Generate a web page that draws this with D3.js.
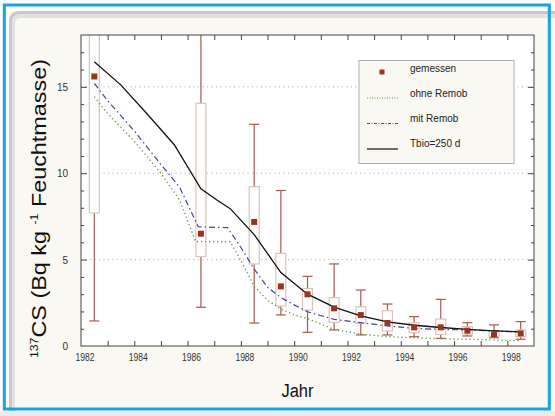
<!DOCTYPE html>
<html><head><meta charset="utf-8">
<script src="https://cdn.jsdelivr.net/npm/d3@7"></script>
<style>body{margin:0;background:#fff}svg{display:block;font-family:"Liberation Sans",Arial,sans-serif}</style>
</head><body><svg id="c" width="555" height="416"></svg>
<script>
// ---- data ----
const measYears = [1982.5,1986.5,1988.5,1989.5,1990.5,1991.5,1992.5,1993.5,1994.5,1995.5,1996.5,1997.5,1998.5];
const measMean  = [15.6,6.5,7.18,3.45,2.99,2.18,1.79,1.33,1.08,1.08,0.89,0.67,0.73];
const boxHigh   = [19.5,14.05,9.22,5.36,3.33,2.8,2.27,2.04,1.35,1.56,1.12,0.89,0.93];
const boxLow    = [7.7,5.17,4.75,2.31,2.08,1.37,1.31,0.87,0.77,0.67,0.69,0.54,0.54];
const whiskHigh = [20,20,12.83,9.0,4.03,4.75,3.24,2.43,1.7,2.7,1.35,1.22,1.41];
const whiskLow  = [1.45,2.24,1.33,1.8,0.79,0.93,0.64,0.64,0.54,0.44,0.58,0.48,0.39];

const ohneYears = [1982.5,1983,1984,1985,1985.7,1986.3,1987.6,1988,1988.5,1989,1989.5,1990,1990.5,1991.5,1992.5,1993.5,1994.5,1995.5,1996.5,1997.5,1998.5];
const ohneVals  = [14.43,13.45,11.85,10.0,8.45,6.05,6.03,4.95,3.45,2.65,2.15,1.8,1.58,0.96,0.69,0.54,0.48,0.42,0.39,0.35,0.3];
const mitYears  = [1982.5,1983,1984,1985,1985.7,1986.4,1987.5,1988,1988.5,1989,1989.5,1990,1990.5,1991.5,1992.5,1993.5,1994.5,1995.5,1996.5,1997.5,1998.5];
const mitVals   = [15.2,14.2,12.45,10.5,9.2,6.9,6.85,5.7,4.45,3.4,2.8,2.38,1.98,1.54,1.35,1.16,1.02,0.96,0.93,0.87,0.81];
const tbioYears = [1982.5,1983.5,1984.5,1985.5,1986.5,1987.1,1987.6,1988.5,1989.5,1990.5,1991.5,1992.5,1993.5,1994.5,1995.5,1996.5,1997.5,1998.5];
const tbioVals  = [16.45,15.1,13.4,11.65,9.1,8.45,7.95,6.45,4.25,3.0,2.25,1.75,1.4,1.2,1.07,0.96,0.88,0.82];

const xTickYears = [1982,1984,1986,1988,1990,1992,1994,1996,1998];
const yTickVals = [0,5,10,15];
const gridVals = [5,10,15];
const legendLabels = ["gemessen","ohne Remob","mit Remob","Tbio=250 d"];

// ---- layout ----
const svg = d3.select("#c");
const L=81,R=534,T=35,B=346;
const x = d3.scaleLinear().domain([1982,1999]).range([L,R]);
const y = d3.scaleLinear().domain([0,18]).range([B,T]);

// frame / panel
svg.append("rect").attr("x",0).attr("y",0).attr("width",555).attr("height",416).attr("fill","#fff");
svg.append("rect").attr("x",9).attr("y",11).attr("width",560).attr("height",420).attr("rx",9).attr("fill","#c9c9c9");
svg.append("rect").attr("x",12).attr("y",14).attr("width",560).attr("height",420).attr("rx",7).attr("fill","#e2e2e0");
svg.append("rect").attr("x",15).attr("y",18).attr("width",560).attr("height",420).attr("rx",5).attr("fill","#faf8f2");
svg.append("rect").attr("x",0).attr("y",411).attr("width",555).attr("height",5).attr("fill","#ececec");

// plot background
svg.append("rect").attr("x",L).attr("y",T).attr("width",R-L).attr("height",B-T).attr("fill","#fff");

svg.append("defs").append("clipPath").attr("id","clip").append("rect")
  .attr("x",L).attr("y",T).attr("width",R-L).attr("height",B-T);

// grid
svg.append("g").selectAll("line").data(gridVals).join("line")
  .attr("x1",L).attr("x2",R).attr("y1",d=>y(d)).attr("y2",d=>y(d))
  .attr("stroke","#aaa").attr("stroke-width",1).attr("stroke-dasharray","1,3.5");

const g = svg.append("g").attr("clip-path","url(#clip)");
const meas = measYears.map((yr,i)=>({yr,m:measMean[i],bh:boxHigh[i],bl:boxLow[i],wh:whiskHigh[i],wl:whiskLow[i]}));
const bw = 10, cw = 10;
// whiskers
g.selectAll(".wh").data(meas).join("line").attr("x1",d=>x(d.yr)).attr("x2",d=>x(d.yr))
  .attr("y1",d=>y(d.bh)).attr("y2",d=>y(d.wh)).attr("stroke","#a85a4e").attr("stroke-width",1.2);
g.selectAll(".wl").data(meas).join("line").attr("x1",d=>x(d.yr)).attr("x2",d=>x(d.yr))
  .attr("y1",d=>y(d.bl)).attr("y2",d=>y(d.wl)).attr("stroke","#a85a4e").attr("stroke-width",1.2);
g.selectAll(".ch").data(meas).join("line").attr("x1",d=>x(d.yr)-cw/2).attr("x2",d=>x(d.yr)+cw/2)
  .attr("y1",d=>y(d.wh)).attr("y2",d=>y(d.wh)).attr("stroke","#a85a4e").attr("stroke-width",1.2);
g.selectAll(".cl").data(meas).join("line").attr("x1",d=>x(d.yr)-cw/2).attr("x2",d=>x(d.yr)+cw/2)
  .attr("y1",d=>y(d.wl)).attr("y2",d=>y(d.wl)).attr("stroke","#a85a4e").attr("stroke-width",1.2);
// boxes
g.selectAll(".bx").data(meas).join("rect").attr("x",d=>x(d.yr)-bw/2).attr("width",bw)
  .attr("y",d=>y(d.bh)).attr("height",d=>y(d.bl)-y(d.bh))
  .attr("fill","#fff").attr("stroke","#dfc2ba").attr("stroke-width",1.2);

// lines
const line = d3.line().x(d=>x(d[0])).y(d=>y(d[1]));
g.append("path").datum(ohneYears.map((v,i)=>[v,ohneVals[i]])).attr("d",line)
  .attr("fill","none").attr("stroke","#5a9e44").attr("stroke-width",1.3).attr("stroke-dasharray","1.3,2.7");
g.append("path").datum(mitYears.map((v,i)=>[v,mitVals[i]])).attr("d",line)
  .attr("fill","none").attr("stroke","#45459a").attr("stroke-width",1.2).attr("stroke-dasharray","6,3,1.5,3");
g.append("path").datum(tbioYears.map((v,i)=>[v,tbioVals[i]])).attr("d",line)
  .attr("fill","none").attr("stroke","#111").attr("stroke-width",1.3);

// markers
g.selectAll(".sq").data(meas).join("rect").attr("x",d=>x(d.yr)-3).attr("y",d=>y(d.m)-3)
  .attr("width",6).attr("height",6).attr("fill","#9a3421");

// axes frame
svg.append("rect").attr("x",L).attr("y",T).attr("width",R-L).attr("height",B-T)
  .attr("fill","none").attr("stroke","#444").attr("stroke-width",1);

const allYears = d3.range(1983,1999);
const axC = "#444";
// bottom
svg.append("g").attr("transform",`translate(0,${B})`)
  .call(d3.axisBottom(x).tickValues(allYears).tickSize(-5).tickFormat(""))
  .call(a=>{a.select(".domain").remove();a.selectAll("line").attr("stroke",axC);});
svg.append("g").selectAll("text").data(xTickYears).join("text")
  .attr("x",d=>x(d)+4).attr("y",B+15).attr("text-anchor","middle")
  .attr("font-size",10).attr("fill","#333").attr("textLength",19).attr("lengthAdjust","spacingAndGlyphs").text(d=>d);
// top
svg.append("g").attr("transform",`translate(0,${T})`)
  .call(d3.axisTop(x).tickValues(allYears).tickSize(-5).tickFormat(""))
  .call(a=>{a.select(".domain").remove();a.selectAll("line").attr("stroke",axC);});
// left
const minor = d3.range(1,18).filter(v=>v%5!==0);
svg.append("g").attr("transform",`translate(${L},0)`)
  .call(d3.axisLeft(y).tickValues(minor).tickSize(-3).tickFormat(""))
  .call(a=>{a.select(".domain").remove();a.selectAll("line").attr("stroke",axC);});
svg.append("g").attr("transform",`translate(${L},0)`)
  .call(d3.axisLeft(y).tickValues([5,10,15]).tickSize(-6).tickFormat(""))
  .call(a=>{a.select(".domain").remove();a.selectAll("line").attr("stroke",axC);});
svg.append("g").selectAll("text").data(yTickVals).join("text")
  .attr("x",68).attr("y",d=>y(d)+4).attr("text-anchor","end")
  .attr("font-size",10).attr("fill","#333").text(d=>d);
// right
svg.append("g").attr("transform",`translate(${R},0)`)
  .call(d3.axisRight(y).tickValues(minor).tickSize(-3).tickFormat(""))
  .call(a=>{a.select(".domain").remove();a.selectAll("line").attr("stroke",axC);});
svg.append("g").attr("transform",`translate(${R},0)`)
  .call(d3.axisRight(y).tickValues([5,10,15]).tickSize(-6).tickFormat(""))
  .call(a=>{a.select(".domain").remove();a.selectAll("line").attr("stroke",axC);});

// legend
const lg = svg.append("g");
lg.append("rect").attr("x",359).attr("y",60.5).attr("width",155).attr("height",103)
  .attr("fill","#faf8f2").attr("stroke","#b0b0b0").attr("stroke-width",1);
const ly = [72,97,122,147];
lg.append("rect").attr("x",379.5).attr("y",ly[0]-2.5).attr("width",5).attr("height",5).attr("fill","#9a3421");
lg.append("line").attr("x1",367).attr("x2",398).attr("y1",ly[1]+1).attr("y2",ly[1]+1)
  .attr("stroke","#5a9e44").attr("stroke-width",1).attr("stroke-dasharray","1,1.5");
lg.append("line").attr("x1",367).attr("x2",398).attr("y1",ly[2]+1.5).attr("y2",ly[2]+1.5)
  .attr("stroke","#45459a").attr("stroke-width",1).attr("stroke-dasharray","3,1.5,1,1.5");
lg.append("line").attr("x1",367).attr("x2",398).attr("y1",ly[3]+2).attr("y2",ly[3]+2)
  .attr("stroke","#111").attr("stroke-width",1.2);
lg.selectAll("text").data(legendLabels).join("text")
  .attr("x",410).attr("y",(d,i)=>ly[i]-0.5).attr("font-size",10).attr("fill","#222").text(d=>d);

// axis titles
svg.append("text").attr("x",297.5).attr("y",397).attr("text-anchor","middle")
  .attr("font-size",18).attr("fill","#111").attr("textLength",32).attr("lengthAdjust","spacingAndGlyphs").text("Jahr");
const yt = svg.append("text").attr("transform","translate(45.5,208.5) rotate(-90)")
  .attr("text-anchor","middle").attr("font-size",21).attr("fill","#111")
  .attr("textLength",299).attr("lengthAdjust","spacingAndGlyphs");
yt.append("tspan").attr("font-size",11).attr("baseline-shift","8").text("137");
yt.append("tspan").text("CS (Bq kg ");
yt.append("tspan").attr("font-size",11).attr("baseline-shift","8").text("-1");
yt.append("tspan").text(" Feuchtmasse)");

// outer blue border
svg.append("rect").attr("x",4.3).attr("y",5).attr("width",545).attr("height",404)
  .attr("fill","none").attr("stroke","#1aa3e2").attr("stroke-width",3);
</script></body></html>
